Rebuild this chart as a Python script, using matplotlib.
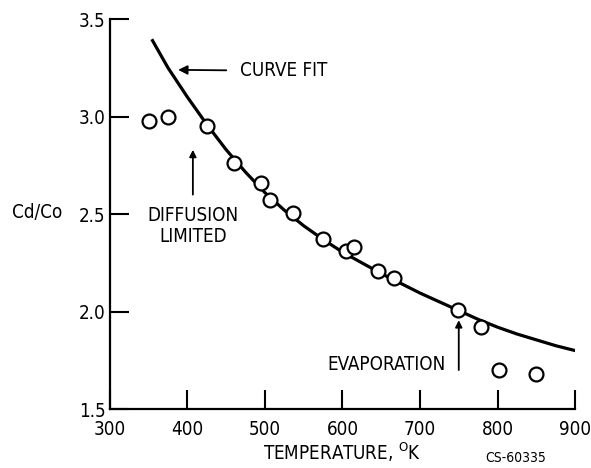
import matplotlib.pyplot as plt

plt.rcParams['font.family'] = ['DejaVu Sans']
plt.rcParams['font.stretch'] = 'condensed'

# measured points
temp = [350, 375, 425, 460, 495, 507, 536, 575, 605, 615, 646, 666, 749, 779, 802, 849]
ratio = [2.98, 3.00, 2.95, 2.76, 2.66, 2.57, 2.505, 2.37, 2.31, 2.33, 2.21, 2.17, 2.01, 1.92, 1.70, 1.68]

# curve fit
fit_temp = [355, 375, 400, 425, 450, 475, 500, 525, 550, 575, 600, 625, 650, 675, 700,
            725, 750, 775, 800, 825, 850, 875, 900]
fit_ratio = [3.39, 3.25, 3.10, 2.96, 2.83, 2.715, 2.61, 2.52, 2.44, 2.37, 2.305, 2.25, 2.195,
             2.145, 2.095, 2.05, 2.005, 1.96, 1.92, 1.885, 1.855, 1.825, 1.80]

xticks = [300, 400, 500, 600, 700, 800, 900]
yticks = [1.5, 2.0, 2.5, 3.0, 3.5]

fig = plt.figure(figsize=(5.91, 4.68), dpi=100)
ax = fig.add_axes([0.186, 0.126, 0.787, 0.833])

ax.plot(fit_temp, fit_ratio, color='black', lw=2.3, zorder=2, solid_joinstyle='round')
ax.plot(temp, ratio, 'o', ms=10, mfc='white', mec='black', mew=1.6, zorder=3)

ax.set_xlim(300, 900)
ax.set_ylim(1.5, 3.5)
ax.set_xticks(xticks)
ax.set_yticks(yticks)
ax.set_yticklabels(['%.1f' % v for v in yticks])
ax.tick_params(direction='in', length=14, width=1.5, labelsize=13.5)
ax.tick_params(axis='x', pad=8)
ax.tick_params(axis='y', pad=3)
ax.spines['top'].set_visible(False)
ax.spines['right'].set_visible(False)
for s in ['left', 'bottom']:
    ax.spines[s].set_linewidth(1.6)

ax.set_xlabel('TEMPERATURE, $^{\\mathsf{O}}$K', fontsize=13.5, labelpad=1)
fig.text(0.02, 1 - 213 / 468, 'Cd/Co', fontsize=13.5, va='center', ha='left')

ax.annotate('CURVE FIT', xy=(388, 3.24), xytext=(468, 3.235), fontsize=13.5,
            va='center', ha='left',
            arrowprops=dict(arrowstyle='-|>', color='black', lw=1.3, shrinkA=8, shrinkB=0))
ax.text(407, 2.44, 'DIFFUSION\nLIMITED', fontsize=13.5, va='center', ha='center',
        linespacing=1.1)
ax.annotate('', xy=(407, 2.83), xytext=(407, 2.60),
            arrowprops=dict(arrowstyle='-|>', color='black', lw=1.3, shrinkA=0, shrinkB=0))
ax.text(657, 1.726, 'EVAPORATION', fontsize=13.5, va='center', ha='center')
ax.annotate('', xy=(750, 1.956), xytext=(750, 1.70),
            arrowprops=dict(arrowstyle='-|>', color='black', lw=1.3, shrinkA=0, shrinkB=0))

fig.text(0.873, 1 - 458 / 468, 'CS-60335', fontsize=10, ha='center', va='center')

fig.savefig('out.png', dpi=100)
